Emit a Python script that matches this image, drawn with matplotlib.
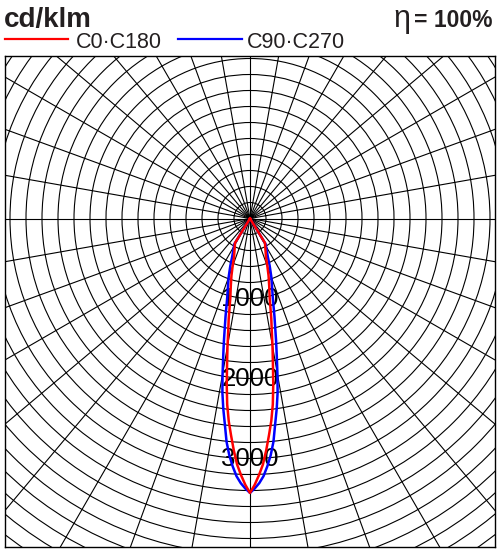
import numpy as np
import matplotlib
matplotlib.use("Agg")
import matplotlib.pyplot as plt
from matplotlib.patches import Circle
from matplotlib.lines import Line2D

# ---- data (cd/klm vs gamma angle in degrees, symmetric planes) ----
gamma_c0 = [0, 1, 2, 3, 4, 5, 6, 7, 8, 9, 10, 11, 12, 14, 16, 18, 20, 22.5, 25, 30, 31.5, 33, 40, 50, 60, 70, 80, 90]
int_c0 = [3430, 3330, 3210, 3080, 2905, 2720, 2545, 2340, 2090, 1830, 1620, 1425, 1280, 1015, 870, 750, 635, 522, 462, 378, 359, 0, 0, 0, 0, 0, 0, 0]

gamma_c90 = [0, 1, 2, 3, 4, 5, 6, 7, 8, 9, 10, 11, 12, 14, 16, 18, 20, 22.5, 25, 30, 31.5, 33, 40, 50, 60, 70, 80, 90]
int_c90 = [3430, 3375, 3310, 3225, 3105, 2970, 2805, 2585, 2400, 2205, 1975, 1755, 1570, 1265, 1035, 890, 780, 645, 527, 399, 372, 0, 0, 0, 0, 0, 0, 0]

series_labels = ["C0·C180", "C90·C270"]
series_colors = ["#ff0000", "#0000ff"]
ring_labels = [1000, 2000, 3000]
unit_label = "cd/klm"
eff_label = "= 100%"

W, H = 500, 551
fig = plt.figure(figsize=(W / 100, H / 100), dpi=100)
fig.patch.set_facecolor("white")

# axes box in pixels
left_px, right_px, top_px, bottom_px = 5, 494.5, 56, 547
ax = fig.add_axes([left_px / W, (H - bottom_px) / H,
                   (right_px - left_px) / W, (bottom_px - top_px) / H])
cx, cy = 250, 218.5
scale = 80 / 1000.0  # px per cd/klm
ax.set_xlim((left_px - cx) / scale, (right_px - cx) / scale)
ax.set_ylim(-(bottom_px - cy) / scale, (cy - top_px) / scale)
ax.set_xticks([])
ax.set_yticks([])
for s in ax.spines.values():
    s.set_color("black")
    s.set_linewidth(1.0)

# grid rings every 200 cd/klm and radial lines every 10 degrees
R = 5600
for r in range(200, R, 200):
    ax.add_patch(Circle((0, 0), r, fill=False, lw=0.8, color="black", zorder=1))
for a in range(0, 180, 10):
    t = np.deg2rad(a)
    ax.plot([-R * np.cos(t), R * np.cos(t)], [-R * np.sin(t), R * np.sin(t)],
            color="black", lw=0.8, zorder=1)

for v in ring_labels:
    ax.text(0, -v, str(v), ha="center", va="center", fontsize=18.5,
            family="Liberation Sans", color="black", zorder=2)


def curve(gam, inten):
    g = np.deg2rad(np.array(gam, dtype=float))
    I = np.array(inten, dtype=float)
    # left half (mirror) then right half
    xl = -I[::-1] * np.sin(g[::-1])
    yl = -I[::-1] * np.cos(g[::-1])
    xr = I * np.sin(g)
    yr = -I * np.cos(g)
    return np.concatenate([xl, xr[1:]]), np.concatenate([yl, yr[1:]])


x90, y90 = curve(gamma_c90, int_c90)
x0, y0 = curve(gamma_c0, int_c0)
ax.plot(x90, y90, color=series_colors[1], lw=1.8, zorder=3)
ax.plot(x0, y0, color=series_colors[0], lw=1.8, zorder=4)

# header texts


def fx(px):
    return px / W


def fy(py):
    return 1 - py / H


fig.text(fx(3.5), fy(26.7), unit_label, ha="left", va="baseline", fontsize=20,
         fontweight="bold", family="Liberation Sans", color="#231f20")
fig.text(fx(493), fy(27), eff_label, ha="right", va="baseline", fontsize=16.5,
         fontweight="bold", family="Liberation Sans", color="#231f20")
fig.text(fx(393.5), fy(27), "η", ha="left", va="baseline", fontsize=22,
         family="Liberation Sans", color="#231f20")

# legend
fig.add_artist(Line2D([fx(5), fx(68.3)], [fy(39.3), fy(39.3)], color=series_colors[0], lw=1.6))
fig.text(fx(76), fy(48.3), series_labels[0], ha="left", va="baseline", fontsize=15.5,
         family="Liberation Sans", color="#231f20")
fig.add_artist(Line2D([fx(177.7), fx(242.3)], [fy(39.3), fy(39.3)], color=series_colors[1], lw=1.6))
fig.text(fx(247.3), fy(48.3), series_labels[1], ha="left", va="baseline", fontsize=15.5,
         family="Liberation Sans", color="#231f20")

fig.savefig("out.png", dpi=100, facecolor="white")
